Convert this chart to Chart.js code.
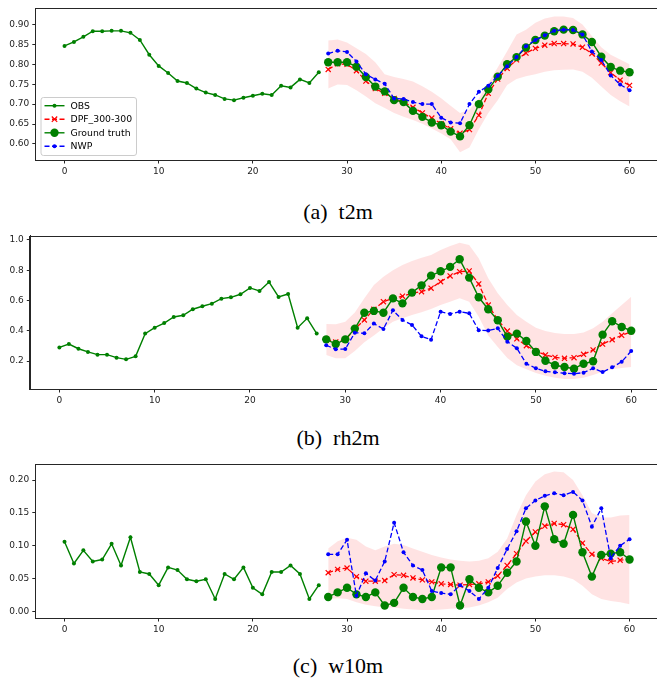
<!DOCTYPE html>
<html>
<head>
<meta charset="utf-8">
<script src="https://cdn.jsdelivr.net/npm/chart.js@4/dist/chart.umd.min.js"></script>
<style>
html,body{margin:0;padding:0;background:#fff;width:657px;height:681px;overflow:hidden;position:relative;}
canvas{position:absolute;}
.cap{position:absolute;font-family:"Liberation Serif","DejaVu Serif",serif;font-size:22px;color:#000;white-space:pre;transform:translate(-50%,-50%);}
</style>
</head>
<body>
<canvas id="c1" width="663" height="186" style="left:0;top:0"></canvas>
<canvas id="c2" width="665" height="190" style="left:0;top:225px"></canvas>
<canvas id="c3" width="663" height="189" style="left:0;top:455px"></canvas>
<div class="cap" style="left:338px;top:212px">(a)  t2m</div>
<div class="cap" style="left:338px;top:438px">(b)  rh2m</div>
<div class="cap" style="left:338px;top:666px">(c)  w10m</div>
<script>
// ---------- shared x steps ----------
const obsSteps = [0,1,2,3,4,5,6,7,8,9,10,11,12,13,14,15,16,17,18,19,20,21,22,23,24,25,26,27];
const fcSteps = [28,29,30,31,32,33,34,35,36,37,38,39,40,41,42,43,44,45,46,47,48,49,50,51,52,53,54,55,56,57,58,59,60];
const xTicks = [0,10,20,30,40,50,60];

// ---------- (a) t2m ----------
const t2mObs = [0.846,0.856,0.869,0.883,0.883,0.884,0.884,0.879,0.861,0.824,0.796,0.778,0.758,0.753,0.739,0.729,0.723,0.713,0.710,0.716,0.721,0.726,0.723,0.746,0.742,0.762,0.753,0.780];
const t2mTruth = [0.805,0.805,0.805,0.794,0.768,0.744,0.732,0.710,0.705,0.683,0.668,0.654,0.647,0.631,0.619,0.647,0.700,0.737,0.769,0.800,0.818,0.842,0.861,0.872,0.883,0.887,0.886,0.875,0.856,0.819,0.793,0.784,0.780];
const t2mDPF = [0.787,0.801,0.800,0.784,0.758,0.739,0.727,0.714,0.705,0.692,0.678,0.665,0.651,0.638,0.627,0.636,0.672,0.727,0.763,0.790,0.811,0.828,0.840,0.848,0.852,0.852,0.851,0.843,0.827,0.803,0.779,0.760,0.747];
const t2mNWP = [0.827,0.834,0.831,0.807,0.775,0.762,0.751,0.714,0.713,0.705,0.700,0.700,0.666,0.654,0.652,0.700,0.731,0.746,0.771,0.795,0.818,0.845,0.861,0.873,0.884,0.887,0.886,0.875,0.832,0.811,0.772,0.749,0.735];
const t2mUpper = [0.860,0.862,0.855,0.840,0.826,0.805,0.775,0.768,0.763,0.757,0.745,0.731,0.715,0.696,0.678,0.686,0.715,0.753,0.792,0.833,0.875,0.887,0.904,0.915,0.920,0.920,0.916,0.900,0.871,0.843,0.824,0.812,0.800];
const t2mLower = [0.739,0.749,0.748,0.735,0.719,0.702,0.690,0.678,0.668,0.660,0.651,0.639,0.626,0.612,0.579,0.591,0.637,0.678,0.710,0.748,0.763,0.770,0.775,0.781,0.785,0.786,0.787,0.781,0.766,0.744,0.723,0.707,0.694];
const t2mYTicks = [0.60,0.65,0.70,0.75,0.80,0.85,0.90];

// ---------- (b) rh2m ----------
const rhObs = [0.290,0.312,0.281,0.260,0.242,0.242,0.222,0.211,0.231,0.381,0.420,0.451,0.491,0.502,0.542,0.562,0.579,0.612,0.621,0.641,0.683,0.663,0.722,0.623,0.643,0.420,0.482,0.381];
const rhTruth = [0.343,0.312,0.343,0.414,0.519,0.531,0.519,0.614,0.581,0.652,0.700,0.764,0.793,0.822,0.872,0.751,0.621,0.542,0.469,0.361,0.381,0.332,0.260,0.202,0.172,0.160,0.149,0.182,0.198,0.374,0.463,0.425,0.400];
const rhDPF = [0.345,0.326,0.339,0.412,0.471,0.542,0.592,0.614,0.628,0.648,0.658,0.681,0.724,0.762,0.790,0.795,0.709,0.570,0.471,0.398,0.347,0.301,0.266,0.240,0.224,0.218,0.222,0.244,0.273,0.312,0.341,0.370,0.394];
const rhNWP = [0.304,0.277,0.279,0.387,0.383,0.447,0.412,0.535,0.471,0.438,0.363,0.341,0.526,0.511,0.526,0.515,0.403,0.401,0.416,0.328,0.284,0.182,0.152,0.132,0.125,0.119,0.116,0.123,0.152,0.127,0.158,0.195,0.266];
const rhUpper = [0.445,0.443,0.460,0.520,0.614,0.702,0.757,0.800,0.835,0.861,0.883,0.900,0.934,0.960,0.982,0.967,0.879,0.747,0.648,0.570,0.504,0.460,0.420,0.398,0.385,0.378,0.378,0.389,0.416,0.460,0.515,0.570,0.625];
const rhLower = [0.240,0.218,0.218,0.266,0.324,0.369,0.416,0.460,0.482,0.504,0.522,0.544,0.570,0.592,0.614,0.592,0.493,0.369,0.293,0.220,0.172,0.145,0.121,0.103,0.089,0.081,0.081,0.089,0.107,0.129,0.145,0.154,0.160];
const rhYTicks = [0.2,0.4,0.6,0.8,1.0];

// ---------- (c) w10m ----------
const wObs = [0.106,0.073,0.093,0.076,0.079,0.103,0.070,0.113,0.060,0.057,0.040,0.067,0.063,0.049,0.046,0.049,0.019,0.057,0.049,0.067,0.036,0.026,0.060,0.060,0.070,0.057,0.019,0.040];
const wTruth = [0.022,0.029,0.036,0.026,0.022,0.029,0.009,0.013,0.036,0.022,0.019,0.022,0.067,0.067,0.009,0.049,0.036,0.029,0.039,0.059,0.076,0.137,0.100,0.160,0.110,0.103,0.147,0.090,0.053,0.086,0.088,0.090,0.079];
const wDPF = [0.059,0.064,0.066,0.053,0.046,0.046,0.047,0.056,0.055,0.051,0.048,0.045,0.042,0.041,0.040,0.041,0.042,0.045,0.054,0.070,0.088,0.107,0.121,0.130,0.134,0.132,0.125,0.104,0.087,0.081,0.076,0.078,0.079];
const wNWP = [0.087,0.087,0.109,0.024,0.058,0.047,0.076,0.135,0.090,0.070,0.063,0.031,0.028,0.026,0.040,0.031,0.019,0.036,0.066,0.095,0.122,0.157,0.169,0.176,0.180,0.177,0.182,0.169,0.129,0.157,0.081,0.100,0.110];
const wUpper = [0.096,0.107,0.112,0.109,0.099,0.093,0.099,0.103,0.101,0.096,0.091,0.086,0.082,0.079,0.077,0.076,0.077,0.081,0.091,0.111,0.147,0.177,0.198,0.209,0.213,0.212,0.200,0.177,0.150,0.143,0.143,0.146,0.147];
const wLower = [0.019,0.020,0.019,0.014,0.010,0.008,0.006,0.006,0.004,0.003,0.002,0.002,0.003,0.004,0.005,0.006,0.009,0.014,0.021,0.034,0.044,0.050,0.053,0.055,0.055,0.053,0.049,0.039,0.026,0.019,0.016,0.014,0.011];
const wYTicks = [0.00,0.05,0.10,0.15,0.20];

const legendLabels = ['OBS','DPF_300-300','Ground truth','NWP'];

// ---------- styles ----------
const GREEN = '#008000', RED = '#ff0000', BLUE = '#0000ff', BAND = 'rgba(255,0,0,0.11)';
const TICKFONT = {family:'"DejaVu Sans", sans-serif', size:9};
const AXISCOL = '#262626';

function pts(xs, ys){ return xs.map((x,i)=>({x:x, y:ys[i]})); }

function makeDatasets(obs, dpf, truth, nwp, up, lo){
  return [
    {label:'band', data:pts(fcSteps, up), fill:'+1', backgroundColor:BAND, borderWidth:0, pointRadius:0, order:10},
    {label:'bandlo', data:pts(fcSteps, lo), fill:false, borderWidth:0, pointRadius:0, order:10},
    {label:legendLabels[0], data:pts(obsSteps, obs), borderColor:GREEN, backgroundColor:GREEN, borderWidth:1.4, pointRadius:2, pointBorderWidth:0, pointStyle:'circle', order:4},
    {label:legendLabels[1], data:pts(fcSteps, dpf), borderColor:RED, backgroundColor:RED, borderWidth:1.3, borderDash:[5,2.5], pointRadius:3.6, pointBorderWidth:1.2, pointStyle:'crossRot', order:3},
    {label:legendLabels[2], data:pts(fcSteps, truth), borderColor:GREEN, backgroundColor:GREEN, borderWidth:1.4, pointRadius:4.2, pointBorderWidth:0, pointStyle:'circle', order:2},
    {label:legendLabels[3], data:pts(fcSteps, nwp), borderColor:BLUE, backgroundColor:BLUE, borderWidth:1.3, borderDash:[5,2.5], pointRadius:2, pointBorderWidth:0, pointStyle:'circle', order:1}
  ];
}

const framePlugin = {
  id:'frame',
  afterDatasetsDraw(chart){
    const a = chart.chartArea, c = chart.ctx;
    c.save(); c.strokeStyle = AXISCOL; c.lineWidth = 1;
    c.strokeRect(Math.round(a.left)-0.5, Math.round(a.top)+0.5, Math.round(a.right-a.left)+1, Math.round(a.bottom-a.top));
    c.restore();
  }
};

const legendPlugin = {
  id:'mplLegend',
  afterDraw(chart){
    const c = chart.ctx;
    const L = 41, T = 97.5, R = 136.5, B = 155.5;
    c.save();
    c.fillStyle = 'rgba(255,255,255,0.85)';
    c.strokeStyle = '#cccccc'; c.lineWidth = 1;
    const r = 2.5;
    c.beginPath();
    c.moveTo(L+r,T); c.lineTo(R-r,T); c.quadraticCurveTo(R,T,R,T+r);
    c.lineTo(R,B-r); c.quadraticCurveTo(R,B,R-r,B); c.lineTo(L+r,B);
    c.quadraticCurveTo(L,B,L,B-r); c.lineTo(L,T+r); c.quadraticCurveTo(L,T,L+r,T);
    c.closePath(); c.fill(); c.stroke();
    const ys = [105.7, 119.2, 132.8, 146.3];
    const x1 = 44.5, x2 = 64.5, xm = 54.5;
    const styles = [
      {col:GREEN, dash:[], mk:'dot', r:2},
      {col:RED, dash:[5,2.5], mk:'x', r:3.6},
      {col:GREEN, dash:[], mk:'dot', r:4.2},
      {col:BLUE, dash:[5,2.5], mk:'dot', r:2}
    ];
    c.font = '9.3px "DejaVu Sans", sans-serif';
    c.textBaseline = 'middle';
    for (let i=0;i<4;i++){
      const s = styles[i], y = ys[i];
      c.strokeStyle = s.col; c.lineWidth = 1.4; c.setLineDash(s.dash);
      c.beginPath(); c.moveTo(x1,y); c.lineTo(x2,y); c.stroke();
      c.setLineDash([]);
      if (s.mk==='dot'){ c.fillStyle=s.col; c.beginPath(); c.arc(xm,y,s.r,0,Math.PI*2); c.fill(); }
      else { c.lineWidth=1.2; c.beginPath(); c.moveTo(xm-s.r*0.75,y-s.r*0.75); c.lineTo(xm+s.r*0.75,y+s.r*0.75); c.moveTo(xm+s.r*0.75,y-s.r*0.75); c.lineTo(xm-s.r*0.75,y+s.r*0.75); c.stroke(); }
      c.fillStyle = '#000';
      c.fillText(legendLabels[i], 70.5, y+0.5);
    }
    c.restore();
  }
};

function makeChart(id, ds, yMin, yMax, yTicks, decimals, padTop, yWidth, withLegend){
  const plugins = [framePlugin];
  if (withLegend) plugins.push(legendPlugin);
  return new Chart(document.getElementById(id), {
    type:'line',
    data:{datasets:ds},
    plugins:plugins,
    options:{
      responsive:false, animation:false, devicePixelRatio:1,
      layout:{padding:{top:padTop, left:0, right:0, bottom:0}},
      plugins:{legend:{display:false}, tooltip:{enabled:false}},
      elements:{line:{tension:0}},
      scales:{
        x:{type:'linear', min:-3.05, max:63,
          afterBuildTicks:(s)=>{ s.ticks = xTicks.map(v=>({value:v})); },
          afterFit:(s)=>{ s.height = 26; },
          grid:{drawOnChartArea:false, drawTicks:true, tickLength:3.5, color:AXISCOL, tickWidth:1},
          border:{display:true, color:AXISCOL, width:1},
          ticks:{font:TICKFONT, color:'#222', padding:2.5, maxRotation:0, callback:(v)=>String(v)}
        },
        y:{type:'linear', min:yMin, max:yMax,
          afterBuildTicks:(s)=>{ s.ticks = yTicks.map(v=>({value:v})); },
          afterFit:(s)=>{ s.width = yWidth; },
          grid:{drawOnChartArea:false, drawTicks:true, tickLength:3.5, color:AXISCOL, tickWidth:1},
          border:{display:true, color:AXISCOL, width:1},
          ticks:{font:TICKFONT, color:'#222', padding:3, callback:(v)=>Number(v).toFixed(decimals)}
        }
      }
    }
  });
}

makeChart('c1', makeDatasets(t2mObs,t2mDPF,t2mTruth,t2mNWP,t2mUpper,t2mLower), 0.5597, 0.9403, t2mYTicks, 2, 7.3, 35.8, true);
makeChart('c2', makeDatasets(rhObs,rhDPF,rhTruth,rhNWP,rhUpper,rhLower), 0.015, 1.028, rhYTicks, 1, 10.7, 30.3, false);
makeChart('c3', makeDatasets(wObs,wDPF,wTruth,wNWP,wUpper,wLower), -0.010, 0.224, wYTicks, 2, 9.3, 35.8, false);
</script>
</body>
</html>
